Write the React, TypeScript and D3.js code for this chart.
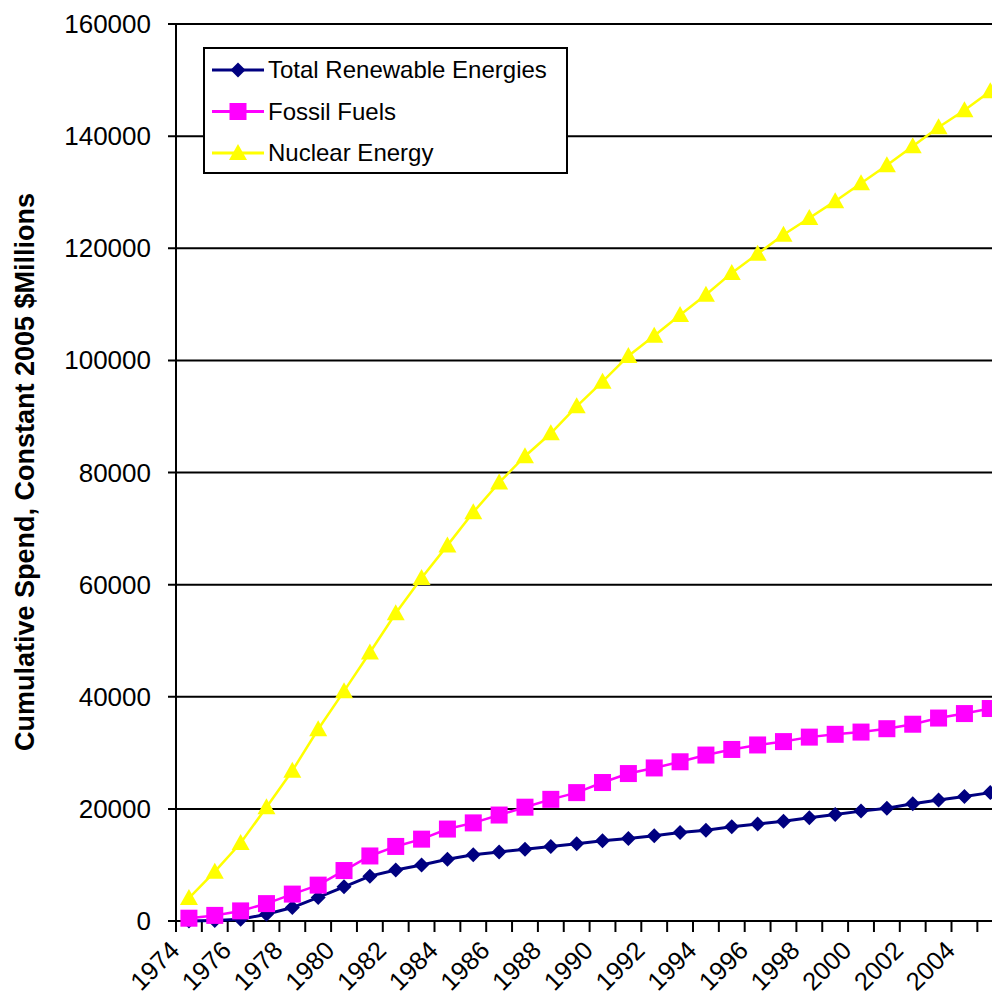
import * as d3 from 'd3';

// years on the category axis
const years: number[] = d3.range(1974, 2006);
const yTicks: number[] = [0, 20000, 40000, 60000, 80000, 100000, 120000, 140000, 160000];

// cumulative spend, constant 2005 $millions
const renewables: number[] = [
	0, 100, 300, 1200, 2400, 4200, 6100, 8000, 9100, 10000, 11000, 11800, 12300, 12800, 13300, 13800,
	14300, 14700, 15200, 15800, 16200, 16800, 17300, 17800, 18400, 19000, 19600, 20100, 20900, 21600, 22200, 22900,
];
const fossil: number[] = [
	500, 1000, 1800, 3100, 4800, 6400, 9000, 11600, 13300, 14600, 16400, 17500, 18900, 20300, 21700, 22900,
	24700, 26300, 27300, 28400, 29600, 30600, 31400, 32000, 32800, 33300, 33700, 34300, 35100, 36200, 37000, 37900,
];
const nuclear: number[] = [
	4100, 8800, 13900, 20300, 26800, 34200, 41000, 47900, 54900, 61200, 67000, 72900, 78200, 82900, 87000, 91800,
	96200, 100800, 104400, 108100, 111700, 115600, 119000, 122400, 125400, 128400, 131600, 134800, 138200, 141600, 144600, 148000,
];

const seriesNames = ['Total Renewable Energies', 'Fossil Fuels', 'Nuclear Energy'];
const seriesColors = ['#000080', '#FF00FF', '#FFFF00'];

const font = '"Liberation Sans", Arial, sans-serif';

const Marker = (props: any) => {
	const { kind, x, y, color } = props;
	if (kind === 0) {
		// diamond
		return <path d={`M${x},${y - 7.5}L${x + 7.5},${y}L${x},${y + 7.5}L${x - 7.5},${y}Z`} fill={color} />;
	}
	if (kind === 1) {
		return <rect x={x - 8.5} y={y - 8.5} width={17} height={17} fill={color} />;
	}
	return <path d={`M${x},${y - 9}L${x + 9},${y + 7}L${x - 9},${y + 7}Z`} fill={color} />;
};

const App = () => {
	const width = 992;
	const height = 1000;
	const left = 176;
	const bottom = 921;
	const top = 24;

	const x = d3.scaleBand<number>()
		.domain(years)
		.range([left, left + years.length * 25.85])
		.padding(0);

	const y = d3.scaleLinear()
		.domain([0, 160000])
		.range([bottom, top]);

	const cx = (yr: number) => (x(yr) || 0) + x.bandwidth() / 2;

	const data = [renewables, fossil, nuclear];
	const line = d3.line<number>()
		.x((_, i) => cx(years[i]))
		.y(d => y(d));

	return (
		<svg width={width} height={height} style={{ position: 'absolute', left: 0, top: 0, background: '#fff' }}>
			{/* gridlines */}
			{yTicks.map(t => (
				<g key={t}>
					<line x1={left - 8} x2={width} y1={y(t)} y2={y(t)} stroke="#000" strokeWidth={2} />
					<text x={151} y={y(t)} dy="0.35em" textAnchor="end" fontFamily={font} fontSize={26} fill="#000">{t}</text>
				</g>
			))}
			<line x1={left} x2={left} y1={top} y2={bottom} stroke="#000" strokeWidth={2} />

			{/* x ticks */}
			{years.map(yr => (
				<line key={yr} x1={x(yr)} x2={x(yr)} y1={bottom} y2={bottom + 11} stroke="#000" strokeWidth={2} />
			))}
			{years.filter(yr => yr % 2 === 0).map(yr => (
				<text key={yr} transform={`translate(${(x(yr) || 0) + 5},${bottom + 31}) rotate(-45)`}
					textAnchor="end" fontFamily={font} fontSize={25.5} fill="#000">{yr}</text>
			))}

			<text transform={`translate(34,472) rotate(-90)`} textAnchor="middle" fontFamily={font}
				fontSize={27} fontWeight="bold" fill="#000">Cumulative Spend, Constant 2005 $Millions</text>

			{/* series */}
			{data.map((d, k) => (
				<g key={k}>
					<path d={line(d) || ''} fill="none" stroke={seriesColors[k]} strokeWidth={k === 0 ? 3 : 2.5} />
					{d.map((v, i) => <Marker key={i} kind={k} x={cx(years[i])} y={y(v)} color={seriesColors[k]} />)}
				</g>
			))}

			{/* legend */}
			<rect x={204} y={48} width={363} height={125} fill="#fff" stroke="#000" strokeWidth={2} />
			{seriesNames.map((n, k) => {
				const ly = 70 + k * 41.5;
				return (
					<g key={n}>
						<line x1={212} x2={264} y1={ly} y2={ly} stroke={seriesColors[k]} strokeWidth={3} />
						<Marker kind={k} x={238} y={ly} color={seriesColors[k]} />
						<text x={268} y={ly} dy="0.35em" fontFamily={font} fontSize={24} fill="#000">{n}</text>
					</g>
				);
			})}
		</svg>
	);
};

export default App;
